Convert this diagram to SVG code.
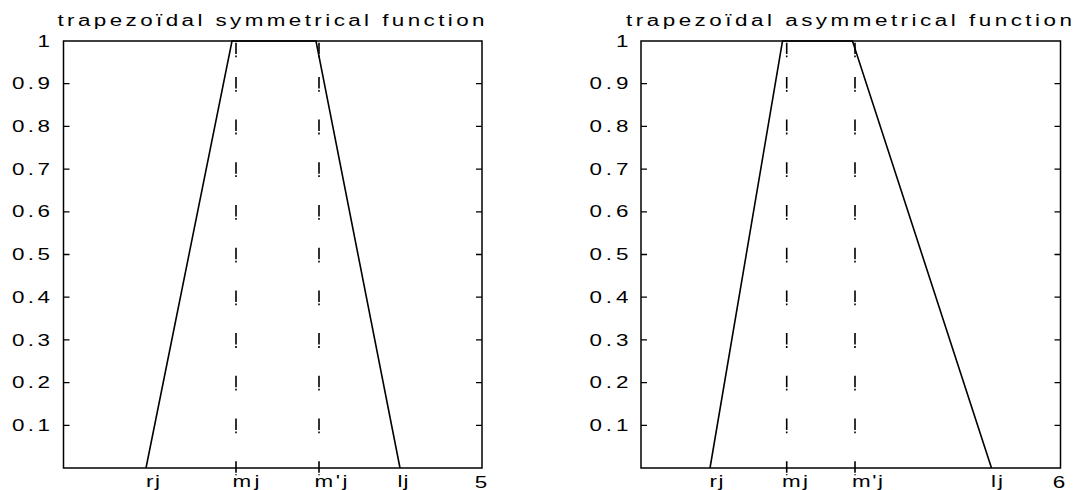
<svg xmlns="http://www.w3.org/2000/svg" width="1078" height="490" viewBox="0 0 1078 490">
<style>
text{font-family:"Liberation Sans",Arial,sans-serif;font-size:16px;fill:#000}
.ax{fill:none;stroke:#000;stroke-width:1.5}
.tk{stroke:#000;stroke-width:1.3}
.ln{fill:none;stroke:#000;stroke-width:1.6}
.dl{fill:none;stroke:#000;stroke-width:1.6;stroke-dasharray:11.5 1.5 1.8 27.9}
.yl{text-anchor:end}
</style>
<rect width="1078" height="490" fill="#fff"/>
<g id="plot-symmetrical">
<rect class="ax" x="63.5" y="41" width="418.5" height="427"/>
<path class="tk" d="M63.5,425.3h6M63.5,382.6h6M63.5,339.9h6M63.5,297.2h6M63.5,254.5h6M63.5,211.8h6M63.5,169.1h6M63.5,126.4h6M63.5,83.7h6M482,425.3h-6M482,382.6h-6M482,339.9h-6M482,297.2h-6M482,254.5h-6M482,211.8h-6M482,169.1h-6M482,126.4h-6M482,83.7h-6"/>
<path class="ln" d="M146,468L232,41H316L400,468"/>
<path class="dl" d="M236,76.9V475.3M319,76.9V475.3"/>
<path class="ln" d="M236,42.7V54M236,55.5V57.3M319,42.7V54M319,55.5V57.3"/>
<g transform="scale(1.4,1)">
<text x="41.07" y="26" textLength="305" lengthAdjust="spacing">trapezoïdal symmetrical function</text>
<g class="yl">
<text x="35.71" y="46.7">1</text>
<text x="35.71" y="89.4" textLength="27.14" lengthAdjust="spacing">0.9</text>
<text x="35.71" y="132.1" textLength="27.14" lengthAdjust="spacing">0.8</text>
<text x="35.71" y="174.8" textLength="27.14" lengthAdjust="spacing">0.7</text>
<text x="35.71" y="217.5" textLength="27.14" lengthAdjust="spacing">0.6</text>
<text x="35.71" y="260.2" textLength="27.14" lengthAdjust="spacing">0.5</text>
<text x="35.71" y="302.9" textLength="27.14" lengthAdjust="spacing">0.4</text>
<text x="35.71" y="345.6" textLength="27.14" lengthAdjust="spacing">0.3</text>
<text x="35.71" y="388.3" textLength="27.14" lengthAdjust="spacing">0.2</text>
<text x="35.71" y="431" textLength="27.14" lengthAdjust="spacing">0.1</text>
</g>
<text x="104.29" y="487" textLength="10" lengthAdjust="spacing">rj</text>
<text x="166.07" y="487" textLength="19.29" lengthAdjust="spacing">mj</text>
<text x="224.64" y="487" textLength="23.57" lengthAdjust="spacing">m'j</text>
<text x="283.93" y="487" textLength="7.86" lengthAdjust="spacing">lj</text>
<text x="343.57" y="488" text-anchor="middle">5</text>
</g>
</g>
<g id="plot-asymmetrical">
<rect class="ax" x="641" y="41" width="419.5" height="427"/>
<path class="tk" d="M641,425.3h6M641,382.6h6M641,339.9h6M641,297.2h6M641,254.5h6M641,211.8h6M641,169.1h6M641,126.4h6M641,83.7h6M1060.5,425.3h-6M1060.5,382.6h-6M1060.5,339.9h-6M1060.5,297.2h-6M1060.5,254.5h-6M1060.5,211.8h-6M1060.5,169.1h-6M1060.5,126.4h-6M1060.5,83.7h-6"/>
<path class="ln" d="M710,468L782.5,41H852.5L991.5,468"/>
<path class="dl" d="M786.7,76.9V475.3M855,76.9V475.3"/>
<path class="ln" d="M786.7,42.7V54M786.7,55.5V57.3M855,42.7V54M855,55.5V57.3"/>
<g transform="scale(1.4,1)">
<text x="447.14" y="26" textLength="318.57" lengthAdjust="spacing">trapezoïdal asymmetrical function</text>
<g class="yl">
<text x="448.93" y="46.7">1</text>
<text x="448.93" y="89.4" textLength="27.86" lengthAdjust="spacing">0.9</text>
<text x="448.93" y="132.1" textLength="27.86" lengthAdjust="spacing">0.8</text>
<text x="448.93" y="174.8" textLength="27.86" lengthAdjust="spacing">0.7</text>
<text x="448.93" y="217.5" textLength="27.86" lengthAdjust="spacing">0.6</text>
<text x="448.93" y="260.2" textLength="27.86" lengthAdjust="spacing">0.5</text>
<text x="448.93" y="302.9" textLength="27.86" lengthAdjust="spacing">0.4</text>
<text x="448.93" y="345.6" textLength="27.86" lengthAdjust="spacing">0.3</text>
<text x="448.93" y="388.3" textLength="27.86" lengthAdjust="spacing">0.2</text>
<text x="448.93" y="431" textLength="27.86" lengthAdjust="spacing">0.1</text>
</g>
<text x="506.79" y="487" textLength="10" lengthAdjust="spacing">rj</text>
<text x="558.57" y="487" textLength="18.57" lengthAdjust="spacing">mj</text>
<text x="608.57" y="487" textLength="22.14" lengthAdjust="spacing">m'j</text>
<text x="707.86" y="487" textLength="8.57" lengthAdjust="spacing">lj</text>
<text x="756.43" y="488" text-anchor="middle">6</text>
</g>
</g>
</svg>
